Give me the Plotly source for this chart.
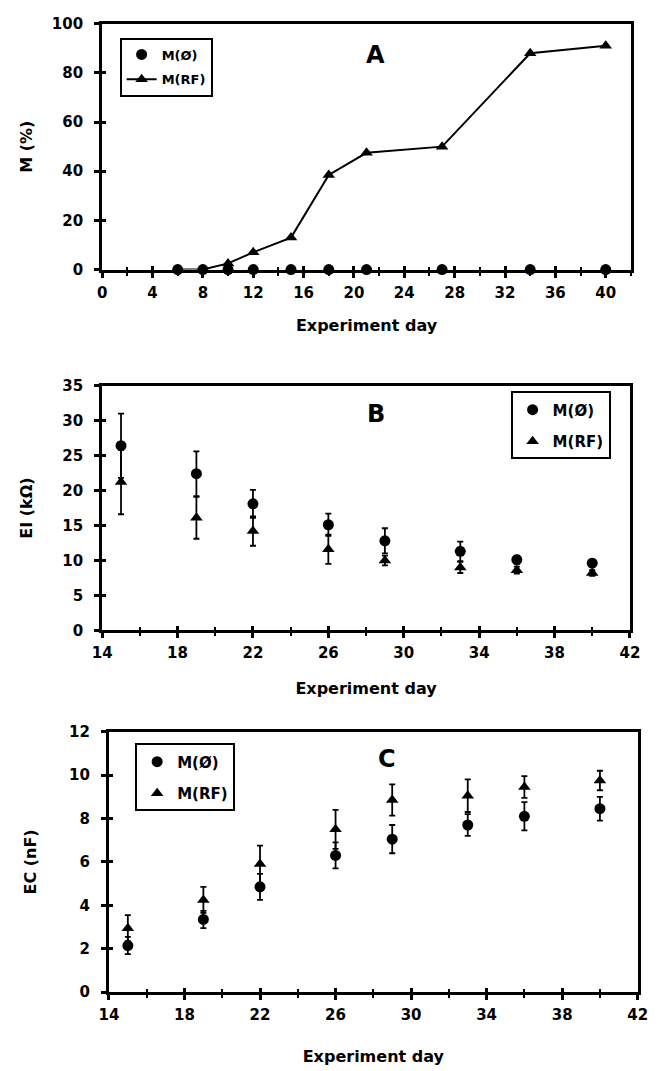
import plotly.graph_objects as go

# ---------------- data ----------------
# Panel A: mortality (%)
a_days = [6, 8, 10, 12, 15, 18, 21, 27, 34, 40]
a_m0 = [0, 0, 0, 0, 0, 0, 0, 0, 0, 0]
a_mrf = [0, 0, 2.5, 7, 13, 38.5, 47.5, 50, 88, 91]

# Panel B: EI (kOhm)
b_days = [15, 19, 22, 26, 29, 33, 36, 40]
b_m0 = [26.4, 22.4, 18.1, 15.1, 12.8, 11.3, 10.1, 9.6]
b_m0_err = [4.6, 3.2, 2.0, 1.6, 1.8, 1.4, 0.6, 0.5]
b_mrf = [21.2, 16.1, 14.2, 11.6, 10.0, 9.0, 8.6, 8.2]
b_mrf_err = [4.6, 3.0, 2.1, 2.1, 0.7, 0.8, 0.5, 0.4]

# Panel C: EC (nF)
c_days = [15, 19, 22, 26, 29, 33, 36, 40]
c_m0 = [2.15, 3.35, 4.85, 6.3, 7.05, 7.7, 8.1, 8.45]
c_m0_err = [0.4, 0.4, 0.6, 0.6, 0.65, 0.5, 0.65, 0.55]
c_mrf = [2.95, 4.25, 5.9, 7.5, 8.85, 9.05, 9.45, 9.75]
c_mrf_err = [0.6, 0.6, 0.85, 0.9, 0.72, 0.75, 0.5, 0.45]

name_m0 = "M(Ø)"
name_mrf = "M(RF)"

FONT = "DejaVu Sans, Liberation Sans, Arial, sans-serif"
W, H = 670, 1071

# plot-area pixel boxes (left, right, top, bottom)
boxes = {
    1: (95, 640, 15, 265),
    2: (95, 639, 383, 632),
    3: (102, 647, 735, 1000),
}


def dom(i):
    l, r, t, b = boxes[i]
    return [l / W, r / W], [1 - b / H, 1 - t / H]


fig = go.Figure()

mk0 = dict(symbol="circle", size=11, color="black")
mk1 = dict(symbol="triangle-up", size=11, color="black")
err = lambda arr: dict(type="data", array=arr, visible=True, color="black", thickness=1.8, width=3)

# Panel A
fig.add_trace(go.Scatter(x=a_days, y=a_mrf, mode="lines+markers", name=name_mrf,
                         marker=mk1, line=dict(color="black", width=2),
                         xaxis="x", yaxis="y", legend="legend", legendgroup="a1",
                         legendrank=2, cliponaxis=False))
fig.add_trace(go.Scatter(x=a_days, y=a_m0, mode="markers", name=name_m0,
                         marker=mk0, xaxis="x", yaxis="y", legend="legend", legendgroup="a0",
                         legendrank=1, cliponaxis=False))

# Panel B
fig.add_trace(go.Scatter(x=b_days, y=b_m0, mode="markers", name=name_m0, marker=mk0,
                         error_y=err(b_m0_err), xaxis="x2", yaxis="y2", legend="legend2",
                         legendgroup="b0", legendrank=1, cliponaxis=False))
fig.add_trace(go.Scatter(x=b_days, y=b_mrf, mode="markers", name=name_mrf, marker=mk1,
                         error_y=err(b_mrf_err), xaxis="x2", yaxis="y2", legend="legend2",
                         legendgroup="b1", legendrank=2, cliponaxis=False))

# Panel C
fig.add_trace(go.Scatter(x=c_days, y=c_m0, mode="markers", name=name_m0, marker=mk0,
                         error_y=err(c_m0_err), xaxis="x3", yaxis="y3", legend="legend3",
                         legendgroup="c0", legendrank=1, cliponaxis=False))
fig.add_trace(go.Scatter(x=c_days, y=c_mrf, mode="markers", name=name_mrf, marker=mk1,
                         error_y=err(c_mrf_err), xaxis="x3", yaxis="y3", legend="legend3",
                         legendgroup="c1", legendrank=2, cliponaxis=False))

# hidden traces to host the overlay axes (inside half of the crossing ticks)
for i in range(1, 4):
    fig.add_trace(go.Scatter(x=[None], y=[None], xaxis=f"x{i+3}", yaxis=f"y{i+3}",
                             showlegend=False, hoverinfo="skip"))

tickfont = dict(family=FONT, size=15, color="black", weight="bold")
titlefont = dict(family=FONT, size=16, color="black", weight="bold")

xranges = {1: [0, 42], 2: [14, 42], 3: [14, 42]}
xtick0 = {1: 0, 2: 14, 3: 14}
yranges = {1: [0, 100], 2: [0, 35], 3: [0, 12]}
ydticks = {1: 20, 2: 5, 3: 2}
ytitles = {1: "M (%)", 2: "EI (kΩ)", 3: "EC (nF)"}
xstand = {1: 20, 2: 22, 3: 28}
ystand = {1: 16, 2: 26, 3: 29}

layout = dict(width=W, height=H, margin=dict(l=0, r=0, t=0, b=0),
              paper_bgcolor="white", plot_bgcolor="white", showlegend=True)

for i in range(1, 4):
    xd, yd = dom(i)
    sx = "" if i == 1 else str(i)
    layout[f"xaxis{sx}"] = dict(
        domain=xd, anchor=f"y{sx}", range=xranges[i], dtick=4, tick0=xtick0[i],
        showline=True, linecolor="black", linewidth=3, mirror=True,
        ticks="outside", ticklen=5, tickwidth=2.5, tickcolor="black",
        minor=dict(dtick=2, ticks="outside", ticklen=3, tickwidth=2, tickcolor="black"),
        showgrid=False, zeroline=False, tickfont=tickfont, ticklabelstandoff=2,
        title=dict(text="Experiment day", font=titlefont, standoff=xstand[i]),
    )
    layout[f"yaxis{sx}"] = dict(
        domain=yd, anchor=f"x{sx}", range=yranges[i], dtick=ydticks[i], tick0=0,
        showline=True, linecolor="black", linewidth=3, mirror=True,
        ticks="outside", ticklen=5, tickwidth=2.5, tickcolor="black",
        showgrid=False, zeroline=False, tickfont=tickfont, ticklabelstandoff=8,
        title=dict(text=ytitles[i], font=titlefont, standoff=ystand[i]),
    )
    # overlay axes: inside ticks to make crossing ticks
    layout[f"xaxis{i+3}"] = dict(
        overlaying=f"x{sx}", anchor=f"y{i+3}", range=xranges[i], dtick=4, tick0=xtick0[i],
        showline=False, ticks="inside", ticklen=4, tickwidth=2.5, tickcolor="black",
        minor=dict(dtick=2, ticks="inside", ticklen=3, tickwidth=2, tickcolor="black"),
        showticklabels=False, showgrid=False, zeroline=False,
    )
    layout[f"yaxis{i+3}"] = dict(
        overlaying=f"y{sx}", anchor=f"x{i+3}", range=yranges[i], dtick=ydticks[i], tick0=0,
        showline=False, ticks="inside", ticklen=4, tickwidth=2.5, tickcolor="black",
        showticklabels=False, showgrid=False, zeroline=False,
    )

# legend: (left px, top px, group gap, font size)
legpos = {"legend": (113, 29, 5, 13), "legend2": (516, 389, 9, 15), "legend3": (129, 747, 9, 15)}
for key, (px, py, gap, fs) in legpos.items():
    layout[key] = dict(x=px / W, y=1 - py / H, xanchor="left", yanchor="top",
                       bgcolor="white", bordercolor="black", borderwidth=2,
                       font=dict(family=FONT, size=fs, color="black", weight="bold"),
                       traceorder="grouped", itemwidth=30, tracegroupgap=gap)

fig.update_layout(**layout)

# panel letters
for letter, (px, py) in {"A": (377, 47), "B": (377, 412), "C": (389, 763)}.items():
    fig.add_annotation(x=px / W, y=1 - py / H, xref="paper", yref="paper",
                       xanchor="center", yanchor="middle",
                       text=letter, showarrow=False,
                       font=dict(family=FONT, size=24, color="black", weight="bold"))

fig.write_html("out.html")
